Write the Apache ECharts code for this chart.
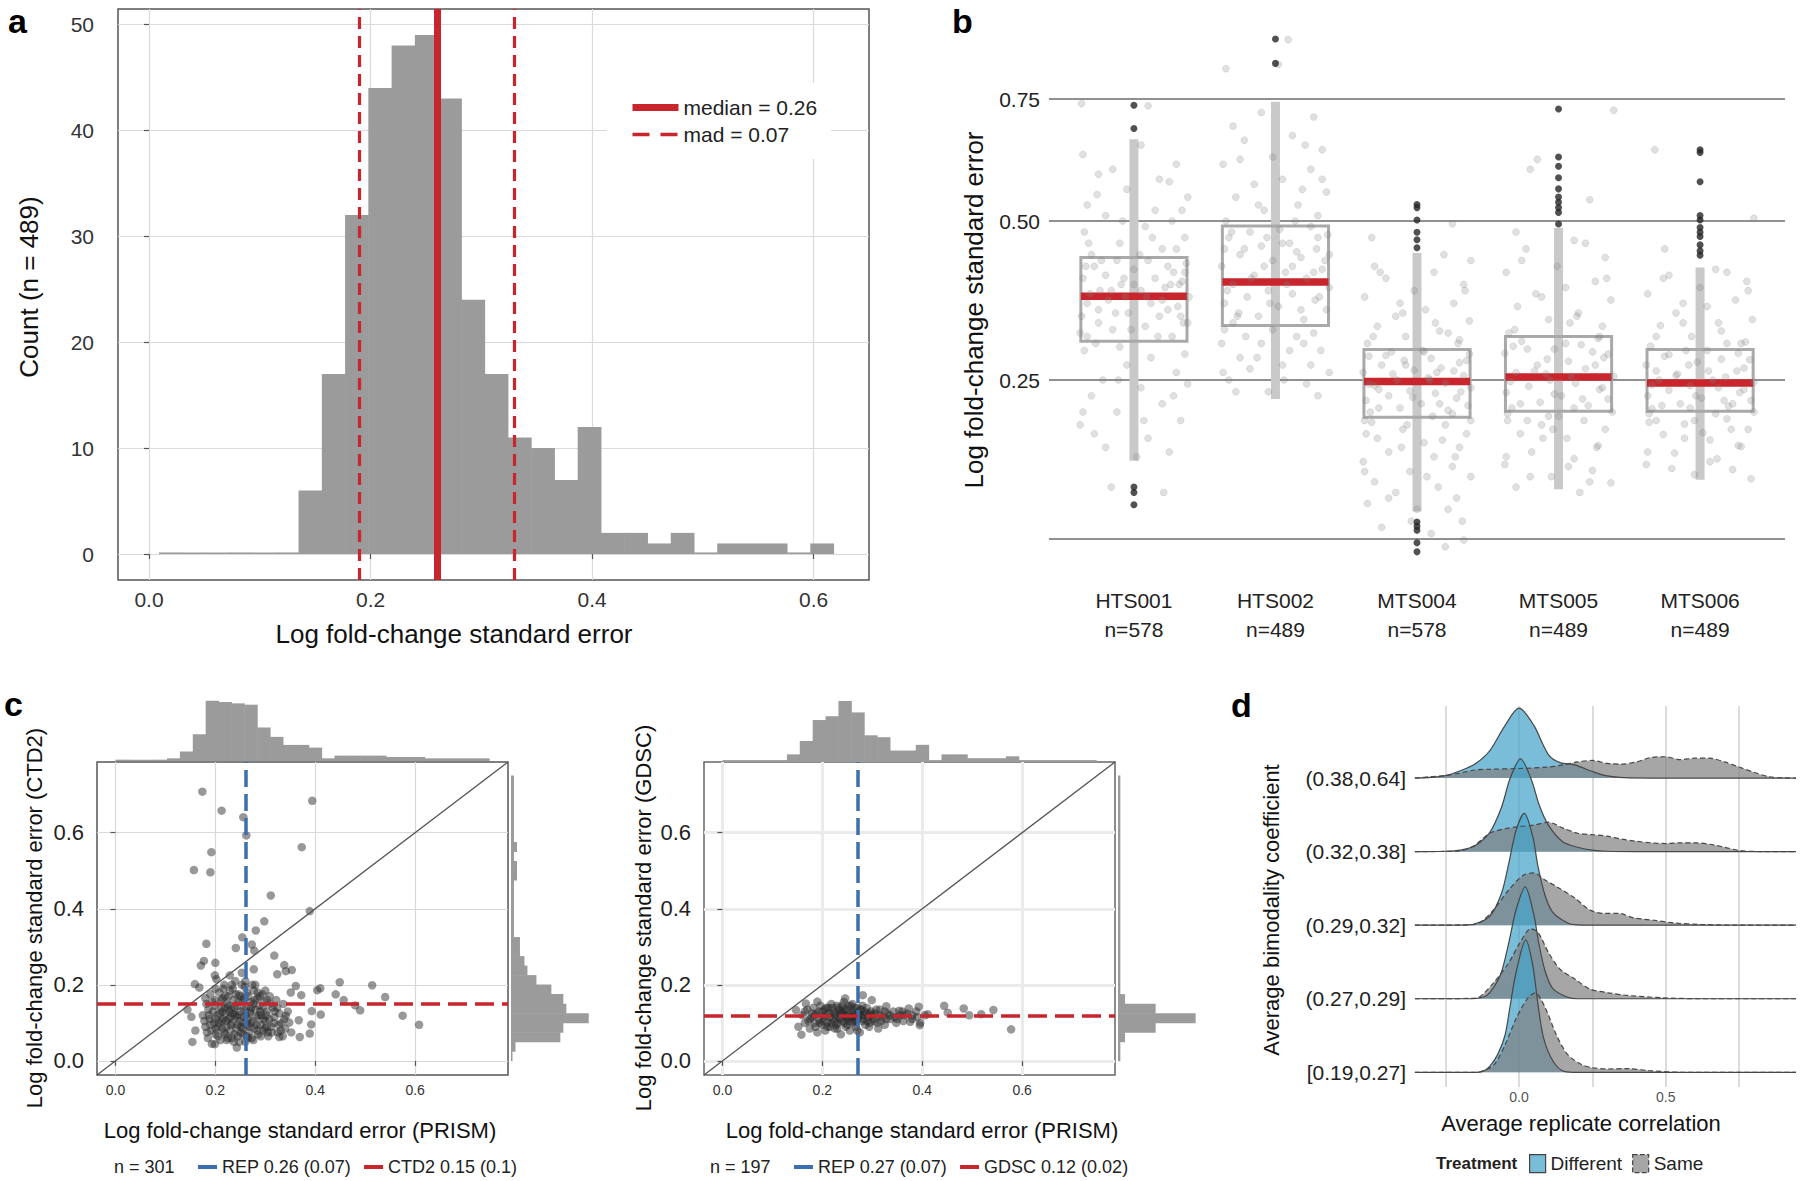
<!DOCTYPE html>
<html>
<head>
<meta charset="utf-8">
<title>Log fold-change standard error</title>
<script src="https://cdn.jsdelivr.net/npm/echarts@6/dist/echarts.min.js"></script>
<style>
  html, body { margin: 0; padding: 0; background: #fff; }
  #chart { width: 1800px; height: 1181px; }
</style>
</head>
<body>
<div id="chart"></div>
<script>
const FONT = 'Liberation Sans, Arial, Helvetica, sans-serif';
const RED = '#c8252c';
const BLUE = '#3b6fb0';
const GREY = '#9b9b9b';

// a : histogram of standard errors
const aBinStart = 0.009;
const aBinWidth = 0.021;
const aCounts = [0, 0, 0, 0, 0, 0, 6, 17, 32, 44, 48, 49, 43, 24, 17, 11, 10, 7, 12, 2, 2, 1, 2, 0, 1, 1, 1, 0, 1];
const aMedian = 0.262;
const aMadLines = [0.19, 0.333];
const aLegend = ['median = 0.26', 'mad = 0.07'];
const aXTicks = [0, 0.2, 0.4, 0.6];
const aYTicks = [0, 10, 20, 30, 40, 50];

// b : boxplots per screen
const bCats = ['HTS001', 'HTS002', 'MTS004', 'MTS005', 'MTS006'];
const bN = ['n=578', 'n=489', 'n=578', 'n=489', 'n=489'];
const bLow = [0.156, 0.226, 0.108, 0.128, 0.137];
const bQ1 = [0.303, 0.326, 0.204, 0.211, 0.211];
const bMed = [0.371, 0.394, 0.248, 0.254, 0.246];
const bQ3 = [0.435, 0.491, 0.2915, 0.31, 0.2915];
const bHigh = [0.662, 0.744, 0.443, 0.487, 0.418];
const bOutliers = [
  [0.736, 0.685, 0.130, 0.125, 0.114],
  [0.8915, 0.8325],
  [0.531, 0.525, 0.502, 0.4795, 0.466, 0.452, 0.0993, 0.0959, 0.0926, 0.083, 0.0763],
  [0.7278, 0.625, 0.606, 0.583, 0.561, 0.545, 0.535, 0.525, 0.516, 0.4945],
  [0.640, 0.634, 0.575, 0.510, 0.502, 0.488, 0.4795, 0.472, 0.457, 0.4465, 0.439]
];
// jittered points: [offset from group centre, value]
const bJitter = [
  [[-0.35,0.29],[0.12,0.28],[-0.05,0.27],[0.3,0.26],[-0.22,0.25],[0.38,0.245],[0.05,0.24],[-0.3,0.23],[0.2,0.22],[-0.12,0.21],[0.33,0.2],[-0.38,0.195],[0.1,0.18],[-0.2,0.17],[0.25,0.165],[-0.28,0.185],[0.02,0.16],[0.36,0.285],[-0.1,0.295],
   [-0.33,0.31],[0.27,0.31],[-0.15,0.32],[0.08,0.325],[0.35,0.33],[-0.37,0.34],[0.18,0.34],[-0.04,0.345],[-0.25,0.35],[0.31,0.355],[0.12,0.36],[-0.18,0.365],[0.39,0.37],[-0.31,0.375],[0.05,0.38],[0.22,0.385],[-0.09,0.39],[0.34,0.395],[-0.36,0.4],[0.15,0.4],[-0.2,0.405],[0.28,0.41],[0.0,0.415],[-0.28,0.42],[0.37,0.425],[-0.12,0.43],[0.1,0.43],[-0.38,0.315],[0.24,0.35],[-0.06,0.37],[0.32,0.39],[-0.24,0.38],
   [-0.3,0.44],[0.2,0.45],[-0.1,0.46],[0.36,0.47],[-0.35,0.48],[0.08,0.49],[0.27,0.5],[-0.2,0.51],[0.15,0.52],[-0.33,0.53],[0.38,0.545],[-0.05,0.56],[0.25,0.575],[-0.25,0.59],[0.3,0.61],[-0.36,0.63],[0.05,0.65],[-0.37,0.74],[0.1,0.735],[-0.15,0.6],[0.21,0.125],[-0.16,0.13],
   [-0.27,0.3],[0.17,0.31],[-0.02,0.32],[0.33,0.34],[-0.33,0.36],[0.09,0.37],[-0.16,0.38],[0.26,0.39],[-0.07,0.4],[0.36,0.41],[-0.23,0.43],[0.04,0.44],[0.3,0.45],[-0.32,0.46],[0.13,0.47],[-0.08,0.5],[0.34,0.52],[-0.26,0.55],[0.18,0.58],[-0.11,0.25],[0.28,0.23],[-0.36,0.21],[0.07,0.2],[-0.25,0.33],[0.2,0.365],[-0.13,0.345],[0.38,0.33],[0.0,0.39],[-0.34,0.42],[0.24,0.42]],
  [[-0.36,0.32],[0.15,0.31],[-0.1,0.3],[0.32,0.29],[-0.25,0.28],[0.05,0.27],[0.38,0.26],[-0.33,0.25],[0.22,0.245],[-0.05,0.235],[0.3,0.23],[-0.18,0.265],[0.1,0.29],[-0.38,0.3],[0.27,0.315],[-0.28,0.235],
   [-0.3,0.33],[0.2,0.335],[-0.12,0.34],[0.36,0.35],[0.02,0.355],[-0.36,0.36],[0.28,0.365],[-0.2,0.37],[0.12,0.375],[-0.05,0.38],[0.38,0.385],[-0.3,0.39],[0.22,0.4],[-0.15,0.405],[0.07,0.41],[0.33,0.415],[-0.38,0.42],[-0.02,0.43],[0.18,0.435],[-0.25,0.44],[0.29,0.45],[-0.1,0.455],[0.1,0.46],[-0.33,0.47],[0.37,0.475],[-0.18,0.48],[0.03,0.485],[0.25,0.49],[-0.26,0.345],[0.15,0.445],
   [-0.35,0.5],[0.3,0.51],[-0.08,0.52],[0.16,0.53],[-0.28,0.545],[0.36,0.555],[-0.15,0.57],[0.05,0.58],[0.25,0.6],[-0.37,0.61],[-0.02,0.625],[0.33,0.64],[-0.22,0.66],[0.12,0.67],[-0.3,0.69],[0.27,0.71],[-0.1,0.72],[0.19,0.56],[0.09,0.89],[-0.35,0.82],[0.02,0.83],
   [-0.27,0.34],[0.18,0.35],[-0.04,0.36],[0.31,0.37],[-0.34,0.38],[0.08,0.39],[-0.17,0.4],[0.27,0.41],[-0.08,0.42],[0.35,0.43],[-0.22,0.45],[0.05,0.46],[0.3,0.47],[-0.31,0.48],[0.14,0.5],[-0.12,0.53],[0.33,0.58],[-0.25,0.62],[0.21,0.65],[-0.13,0.28],[0.25,0.27],[-0.37,0.26],[0.06,0.25],[-0.21,0.31],[0.2,0.3],[-0.02,0.32],[0.38,0.44],[-0.36,0.45],[0.12,0.42],[-0.06,0.47]],
  [[-0.37,0.2],[0.2,0.195],[-0.1,0.19],[0.35,0.185],[-0.28,0.18],[0.05,0.175],[0.3,0.17],[-0.2,0.165],[0.12,0.16],[-0.38,0.155],[0.25,0.15],[-0.05,0.145],[0.38,0.14],[-0.3,0.135],[0.15,0.13],[-0.15,0.125],[0.28,0.12],[-0.35,0.115],[0.0,0.11],[0.32,0.1],[-0.25,0.095],[0.1,0.09],[0.33,0.085],[-0.32,0.198],[0.18,0.178],
   [-0.33,0.21],[0.22,0.212],[-0.12,0.215],[0.36,0.218],[0.03,0.22],[-0.36,0.224],[0.28,0.227],[-0.2,0.23],[0.13,0.233],[-0.05,0.236],[0.38,0.24],[-0.3,0.243],[0.2,0.246],[-0.14,0.25],[0.08,0.253],[0.33,0.256],[-0.38,0.26],[-0.02,0.263],[0.17,0.266],[-0.25,0.27],[0.3,0.273],[-0.09,0.276],[0.1,0.279],[-0.34,0.282],[0.37,0.285],[-0.18,0.288],[0.04,0.29],[0.25,0.208],[-0.27,0.238],[0.14,0.26],
   [-0.35,0.3],[0.3,0.305],[-0.08,0.31],[0.16,0.318],[-0.28,0.325],[0.37,0.333],[-0.15,0.34],[0.06,0.35],[0.26,0.36],[-0.37,0.37],[-0.02,0.38],[0.33,0.39],[-0.22,0.4],[0.12,0.41],[-0.3,0.42],[0.22,0.315],[-0.1,0.345],[0.38,0.43],[-0.32,0.47],[0.25,0.495],[0.2,0.08],
   [-0.27,0.215],[0.16,0.22],[-0.03,0.228],[0.31,0.235],[-0.34,0.245],[0.09,0.25],[-0.17,0.258],[0.26,0.262],[-0.08,0.27],[0.35,0.276],[-0.22,0.283],[0.05,0.288],[0.29,0.3],[-0.31,0.31],[0.13,0.33],[-0.12,0.36],[0.34,0.38],[-0.26,0.41],[0.19,0.44],[-0.11,0.17],[0.27,0.16],[-0.37,0.145],[0.07,0.14],[-0.2,0.12],[0.22,0.11],[-0.04,0.1],[0.38,0.2],[-0.36,0.185],[0.11,0.205],[-0.07,0.195]],
  [[-0.36,0.208],[0.18,0.2],[-0.12,0.195],[0.33,0.19],[-0.27,0.185],[0.06,0.18],[0.28,0.172],[-0.19,0.165],[0.11,0.158],[-0.38,0.152],[0.24,0.146],[-0.05,0.14],[0.37,0.134],[-0.3,0.13],[0.15,0.125],[0.0,0.205],[-0.22,0.2],
   [-0.33,0.215],[0.21,0.218],[-0.13,0.222],[0.35,0.226],[0.02,0.23],[-0.37,0.234],[0.29,0.238],[-0.21,0.242],[0.12,0.246],[-0.06,0.25],[0.39,0.255],[-0.3,0.26],[0.19,0.265],[-0.15,0.27],[0.07,0.275],[0.32,0.28],[-0.38,0.286],[-0.03,0.292],[0.16,0.298],[-0.26,0.303],[0.28,0.307],[-0.09,0.258],[0.24,0.288],[-0.32,0.296],
   [-0.35,0.315],[0.31,0.325],[-0.07,0.335],[0.14,0.345],[-0.29,0.355],[0.37,0.365],[-0.16,0.375],[0.05,0.385],[0.26,0.395],[-0.37,0.41],[-0.01,0.42],[0.33,0.435],[-0.23,0.45],[0.11,0.465],[-0.3,0.48],[0.22,0.54],[-0.2,0.6],[0.39,0.725],[-0.15,0.62],[0.08,0.33],
   [-0.27,0.22],[0.17,0.226],[-0.03,0.232],[0.31,0.24],[-0.34,0.248],[0.09,0.255],[-0.17,0.262],[0.26,0.27],[-0.08,0.278],[0.35,0.285],[-0.22,0.292],[0.05,0.3],[0.29,0.31],[-0.31,0.32],[0.13,0.34],[-0.12,0.37],[0.34,0.4],[-0.26,0.43],[0.19,0.46],[-0.11,0.18],[0.27,0.17],[-0.37,0.16],[0.07,0.15],[-0.2,0.14],[0.22,0.135],[-0.04,0.19],[0.38,0.21],[-0.36,0.2],[0.11,0.215],[-0.07,0.205]],
  [[-0.36,0.208],[0.19,0.202],[-0.11,0.196],[0.34,0.19],[-0.26,0.184],[0.07,0.178],[0.29,0.171],[-0.18,0.164],[0.12,0.158],[-0.38,0.152],[0.23,0.147],[-0.04,0.142],[0.36,0.138],[-0.31,0.2],[0.02,0.186],
   [-0.34,0.214],[0.2,0.217],[-0.14,0.22],[0.36,0.224],[0.01,0.227],[-0.37,0.23],[0.28,0.234],[-0.22,0.237],[0.13,0.24],[-0.07,0.243],[0.38,0.247],[-0.29,0.25],[0.18,0.254],[-0.16,0.258],[0.06,0.262],[0.31,0.266],[-0.38,0.27],[-0.02,0.274],[0.15,0.278],[-0.25,0.282],[0.27,0.286],[-0.1,0.29],[0.23,0.22],[-0.31,0.262],
   [-0.35,0.296],[0.32,0.302],[-0.06,0.31],[0.15,0.318],[-0.28,0.326],[0.37,0.335],[-0.17,0.345],[0.05,0.355],[0.25,0.365],[-0.37,0.375],[0.0,0.385],[0.33,0.395],[-0.22,0.405],[0.11,0.415],[-0.32,0.64],[0.19,0.3],[-0.12,0.33],[0.38,0.505],[-0.25,0.45],
   [-0.27,0.218],[0.17,0.224],[-0.03,0.23],[0.31,0.238],[-0.34,0.244],[0.09,0.25],[-0.17,0.256],[0.26,0.262],[-0.08,0.27],[0.35,0.277],[-0.22,0.284],[0.05,0.29],[0.29,0.3],[-0.31,0.31],[0.13,0.33],[-0.12,0.36],[0.34,0.38],[-0.26,0.4],[0.19,0.41],[-0.11,0.18],[0.27,0.172],[-0.37,0.165],[0.07,0.155],[-0.2,0.148],[0.22,0.19],[-0.04,0.2],[0.38,0.21],[-0.36,0.198],[0.11,0.208],[-0.07,0.215]]
];
const bYTicks = [0.25, 0.5, 0.75];
const bFloorLine = 0.086;

// c : PRISM vs CTD2 / GDSC
const cTicks = [0, 0.2, 0.4, 0.6];
const cLeftPoints = [
  [0.174,0.708],[0.2125,0.658],[0.256,0.641],[0.262,0.593],[0.394,0.684],[0.373,0.562],[0.192,0.549],[0.157,0.502],[0.19,0.496],[0.311,0.435],[0.389,0.394],[0.298,0.367],[0.281,0.343],[0.254,0.325],[0.273,0.306],[0.241,0.297],[0.182,0.308],[0.278,0.29],[0.318,0.277],[0.177,0.263],[0.2,0.258],[0.171,0.251],[0.338,0.252],[0.353,0.239],[0.341,0.236],[0.277,0.241],[0.324,0.228],[0.199,0.225],[0.229,0.225],[0.253,0.232],[0.159,0.202],[0.168,0.193],[0.361,0.197],[0.449,0.207],[0.514,0.199],[0.41,0.191],[0.404,0.186],[0.441,0.175],[0.54,0.168],[0.457,0.16],[0.48,0.146],[0.49,0.133],[0.575,0.119],[0.608,0.095],[0.411,0.122],[0.393,0.131],[0.372,0.173],[0.351,0.18],[0.392,0.096],[0.389,0.072],[0.369,0.063],[0.352,0.075],[0.348,0.101],[0.341,0.119],[0.367,0.107],[0.328,0.063],[0.154,0.05],[0.16,0.08],[0.199,0.044],[0.144,0.135],[0.152,0.116],
  [0.175,0.12],[0.18,0.09],[0.182,0.15],[0.185,0.06],[0.188,0.11],[0.19,0.175],[0.192,0.08],[0.195,0.13],[0.197,0.1],[0.2,0.16],[0.2,0.07],[0.202,0.215],[0.204,0.12],[0.206,0.09],[0.208,0.18],[0.21,0.055],[0.211,0.14],[0.213,0.105],[0.215,0.165],[0.217,0.075],[0.218,0.2],[0.22,0.125],[0.222,0.09],[0.224,0.15],[0.225,0.06],[0.227,0.11],[0.229,0.185],[0.23,0.08],[0.232,0.135],[0.234,0.1],[0.236,0.16],[0.237,0.05],[0.239,0.12],[0.24,0.21],[0.242,0.085],[0.244,0.145],[0.245,0.065],[0.247,0.175],[0.249,0.105],[0.25,0.13],[0.252,0.09],[0.254,0.16],[0.255,0.07],[0.257,0.115],[0.259,0.195],[0.26,0.05],[0.262,0.14],[0.264,0.095],[0.266,0.17],[0.267,0.075],[0.269,0.125],[0.271,0.155],[0.273,0.06],[0.275,0.105],[0.277,0.185],[0.278,0.085],[0.28,0.135],[0.282,0.115],[0.284,0.165],[0.286,0.07],[0.288,0.145],[0.29,0.095],[0.292,0.12],[0.294,0.175],[0.296,0.08],[0.298,0.155],[0.3,0.105],[0.303,0.13],[0.306,0.065],[0.309,0.17],[0.312,0.09],[0.315,0.14],[0.318,0.115],[0.322,0.16],[0.325,0.075],[0.328,0.125],[0.332,0.1],[0.336,0.15],[0.34,0.085],[0.345,0.13],
  [0.178,0.105],[0.186,0.135],[0.193,0.045],[0.199,0.145],[0.205,0.065],[0.209,0.125],[0.214,0.085],[0.219,0.14],[0.223,0.055],[0.226,0.17],[0.231,0.095],[0.235,0.125],[0.238,0.07],[0.243,0.115],[0.246,0.155],[0.251,0.075],[0.253,0.2],[0.256,0.1],[0.261,0.12],[0.263,0.18],[0.268,0.09],[0.272,0.14],[0.276,0.055],[0.279,0.16],[0.283,0.095],[0.287,0.12],[0.291,0.065],[0.295,0.14],[0.299,0.085],[0.304,0.16],[0.308,0.11],[0.313,0.075],[0.319,0.13],[0.327,0.095],[0.335,0.065],[0.216,0.19],[0.233,0.2],[0.258,0.165],[0.274,0.2],[0.2,0.11],[0.212,0.16],[0.228,0.13],[0.248,0.05],[0.265,0.11],[0.285,0.18],[0.302,0.12],[0.19,0.095],[0.183,0.075],[0.221,0.105],[0.241,0.175],
  [0.18,0.165],[0.187,0.12],[0.194,0.155],[0.201,0.085],[0.207,0.1],[0.214,0.13],[0.22,0.07],[0.226,0.145],[0.233,0.06],[0.238,0.14],[0.244,0.095],[0.25,0.17],[0.257,0.135],[0.263,0.065],[0.27,0.1],[0.276,0.15],[0.283,0.08],[0.289,0.17],[0.296,0.11],[0.303,0.09],[0.31,0.15],[0.317,0.1],[0.324,0.14],[0.331,0.08],[0.338,0.11],[0.23,0.115],[0.255,0.085],[0.27,0.13],[0.245,0.12],[0.215,0.11],[0.29,0.13],[0.305,0.075],[0.2,0.19],[0.22,0.17],[0.26,0.21],[0.28,0.2],[0.235,0.19],[0.3,0.185],[0.265,0.06],[0.243,0.035]
];
const cRightPoints = [
  [0.281,0.173],[0.444,0.145],[0.451,0.127],[0.483,0.138],[0.494,0.12],[0.518,0.123],[0.5425,0.134],[0.578,0.083],[0.411,0.123],[0.393,0.1425],[0.373,0.138],[0.354,0.132],[0.328,0.144],[0.312,0.085],[0.395,0.094],[0.376,0.103],[0.299,0.16],[0.158,0.069],[0.152,0.09],[0.147,0.134],[0.167,0.151],[0.19,0.156],[0.2457,0.1645],
  [0.16,0.12],[0.165,0.1],[0.17,0.135],[0.175,0.085],[0.178,0.115],[0.182,0.14],[0.185,0.1],[0.188,0.125],[0.19,0.075],[0.193,0.11],[0.196,0.145],[0.199,0.095],[0.2,0.13],[0.203,0.115],[0.206,0.08],[0.208,0.14],[0.21,0.1],[0.213,0.125],[0.215,0.09],[0.218,0.15],[0.22,0.11],[0.222,0.13],[0.225,0.085],[0.227,0.12],[0.229,0.145],[0.231,0.1],[0.233,0.115],[0.235,0.135],[0.237,0.07],[0.239,0.125],[0.241,0.105],[0.243,0.155],[0.245,0.12],[0.247,0.09],[0.249,0.135],[0.251,0.11],[0.253,0.125],[0.255,0.08],[0.257,0.145],[0.259,0.115],[0.261,0.1],[0.263,0.13],[0.265,0.12],[0.267,0.09],[0.269,0.14],[0.271,0.11],[0.273,0.125],[0.275,0.075],[0.278,0.135],[0.28,0.105],[0.283,0.12],[0.286,0.095],[0.289,0.14],[0.292,0.115],[0.295,0.1],[0.298,0.13],[0.301,0.11],[0.305,0.125],[0.31,0.1],[0.315,0.135],[0.32,0.115],[0.325,0.095],[0.33,0.125],[0.336,0.11],[0.342,0.13],[0.348,0.1],[0.355,0.12],[0.362,0.105],[0.37,0.125],[0.38,0.11],[0.388,0.13],[0.396,0.1],[0.405,0.12],
  [0.172,0.105],[0.18,0.125],[0.186,0.09],[0.194,0.13],[0.201,0.105],[0.207,0.12],[0.212,0.14],[0.217,0.1],[0.223,0.125],[0.228,0.095],[0.232,0.14],[0.236,0.11],[0.24,0.13],[0.244,0.1],[0.248,0.115],[0.252,0.145],[0.256,0.105],[0.26,0.125],[0.264,0.14],[0.268,0.105],[0.272,0.12],[0.276,0.135],[0.282,0.11],[0.288,0.125],[0.294,0.09],[0.3,0.12],[0.308,0.135],[0.318,0.105],[0.328,0.11],[0.345,0.115],[0.365,0.12],[0.39,0.115],
  [0.165,0.13],[0.175,0.11],[0.185,0.12],[0.195,0.1],[0.205,0.135],[0.215,0.115],[0.225,0.105],[0.235,0.125],[0.245,0.135],[0.255,0.115],[0.265,0.105],[0.275,0.12],[0.285,0.13],[0.295,0.125],[0.305,0.105],[0.315,0.12],[0.325,0.13],[0.335,0.12],[0.35,0.11],[0.23,0.085],[0.25,0.095],[0.27,0.08],[0.21,0.09],[0.29,0.105],[0.24,0.145],[0.26,0.15],[0.22,0.14],[0.28,0.145],[0.36,0.13],[0.38,0.12]
];
const cLeftRep = 0.261;
const cLeftCtd2 = 0.152;
const cRightRep = 0.267;
const cRightGdsc = 0.117;
const cLeftLegend = ['REP 0.26 (0.07)', 'CTD2 0.15 (0.1)'];
const cRightLegend = ['REP 0.27 (0.07)', 'GDSC 0.12 (0.02)'];
const cTopBinWidth = 0.0258;
const cLeftTopCounts = [1, 1, 1, 1, 2, 7, 20, 45, 44, 43, 42, 25, 18, 12, 12, 10, 2, 4, 4, 4, 4, 3, 3, 3, 2, 2, 2, 2, 2];
const cRightTopCounts = [1, 1, 1, 1, 1, 4, 11, 22, 24, 32, 26, 14, 13, 6, 6, 9, 1, 4, 4, 2, 2, 2, 3, 1, 1, 1, 1, 1, 1];
const cSideBinWidth = 0.025;
const cLeftSideCounts = [1, 3, 33, 35, 52, 37, 35, 27, 17, 11, 9, 6, 6, 2, 2, 2, 2, 2, 2, 4, 4, 2, 4, 2, 2, 2, 2, 2, 2, 2];
const cRightSideCounts = [1, 1, 3, 16, 33, 16, 3, 1, 1, 1, 1, 1, 1, 1, 1, 1, 1, 1, 1, 1, 1, 1, 1, 1, 1, 1, 1, 1, 1, 1];

// d : ridgelines, [correlation, scaled density] per bimodality bin (top to bottom)
const dRows = ['(0.38,0.64]', '(0.32,0.38]', '(0.29,0.32]', '(0.27,0.29]', '[0.19,0.27]'];
const dDifferent = [
  [[-0.355,0],[-0.3,0.01],[-0.25,0.035],[-0.2,0.1],[-0.15,0.19],[-0.1,0.37],[-0.05,0.7],[0,0.95],[0.05,0.72],[0.1,0.32],[0.14,0.21],[0.19,0.18],[0.25,0.09],[0.3,0.03],[0.36,0.005],[0.45,0],[0.944,0]],
  [[-0.355,0],[-0.25,0.005],[-0.2,0.02],[-0.15,0.08],[-0.1,0.26],[-0.06,0.6],[-0.03,1.0],[0.005,1.26],[0.04,1.0],[0.07,0.62],[0.1,0.36],[0.15,0.13],[0.2,0.06],[0.25,0.02],[0.3,0.005],[0.4,0],[0.944,0]],
  [[-0.355,0],[-0.2,0],[-0.15,0.02],[-0.1,0.12],[-0.06,0.43],[-0.035,0.84],[-0.01,1.29],[0.018,1.52],[0.047,1.2],[0.065,0.79],[0.09,0.39],[0.116,0.17],[0.166,0.03],[0.2,0.005],[0.3,0],[0.944,0]],
  [[-0.355,0],[-0.16,0],[-0.136,0.01],[-0.11,0.045],[-0.086,0.157],[-0.06,0.36],[-0.035,0.76],[-0.01,1.21],[0.021,1.52],[0.05,1.15],[0.068,0.74],[0.09,0.36],[0.116,0.135],[0.166,0.02],[0.2,0],[0.944,0]],
  [[-0.355,0],[-0.15,0],[-0.123,0.013],[-0.1,0.08],[-0.073,0.24],[-0.048,0.5],[-0.03,0.91],[-0.01,1.36],[0.023,1.8],[0.047,1.45],[0.065,0.91],[0.084,0.46],[0.116,0.15],[0.154,0.013],[0.2,0],[0.944,0]]
];
const dSame = [
  [[-0.355,0],[-0.3,0.02],[-0.25,0.035],[-0.2,0.07],[-0.15,0.11],[-0.1,0.12],[0,0.13],[0.1,0.15],[0.15,0.18],[0.2,0.22],[0.25,0.24],[0.3,0.2],[0.35,0.19],[0.4,0.22],[0.45,0.28],[0.5,0.29],[0.55,0.25],[0.6,0.27],[0.65,0.27],[0.7,0.22],[0.75,0.15],[0.8,0.08],[0.85,0.02],[0.9,0.004],[0.944,0]],
  [[-0.355,0],[-0.25,0.003],[-0.2,0.01],[-0.15,0.09],[-0.1,0.25],[-0.05,0.31],[0,0.34],[0.05,0.36],[0.1,0.4],[0.15,0.32],[0.2,0.25],[0.25,0.23],[0.3,0.21],[0.35,0.17],[0.4,0.14],[0.45,0.12],[0.5,0.11],[0.55,0.12],[0.6,0.12],[0.65,0.1],[0.7,0.06],[0.75,0.015],[0.8,0.003],[0.85,0],[0.944,0]],
  [[-0.355,0],[-0.18,0.005],[-0.136,0.03],[-0.086,0.21],[-0.035,0.48],[0.015,0.68],[0.05,0.71],[0.09,0.61],[0.13,0.52],[0.19,0.37],[0.24,0.21],[0.29,0.16],[0.34,0.16],[0.39,0.1],[0.46,0.067],[0.53,0.03],[0.62,0.01],[0.75,0],[0.944,0]],
  [[-0.355,0],[-0.16,0.005],[-0.136,0.02],[-0.086,0.22],[-0.035,0.49],[0.003,0.76],[0.04,0.95],[0.065,0.9],[0.1,0.63],[0.14,0.4],[0.19,0.27],[0.24,0.135],[0.305,0.08],[0.37,0.045],[0.49,0.013],[0.62,0],[0.944,0]],
  [[-0.355,0],[-0.15,0],[-0.13,0.01],[-0.086,0.1],[-0.048,0.37],[-0.01,0.73],[0.028,1.0],[0.055,1.08],[0.09,0.87],[0.128,0.5],[0.166,0.24],[0.216,0.1],[0.254,0.06],[0.3,0.045],[0.37,0.05],[0.443,0.022],[0.557,0],[0.944,0]]
];
const dGridVals = [-0.25, 0, 0.25, 0.5, 0.75];
const dLabelVals = [0, 0.5];
const dFill = { Different: 'rgba(71,164,202,0.72)', Same: 'rgba(128,128,128,0.7)' };

// ---------- helpers
function bins(start, width, counts) {
  return counts.map((c, i) => [start + i * width, start + (i + 1) * width, c]);
}

function histItem(horizontal, color, minPx) {
  return function (params, api) {
    const lo = api.value(0), hi = api.value(1), n = api.value(2);
    if (!horizontal) {
      const p0 = api.coord([lo, 0]), p1 = api.coord([hi, n]);
      const h = Math.max(p0[1] - p1[1], minPx);
      return { type: 'rect', shape: { x: p0[0], y: p0[1] - h, width: p1[0] - p0[0] + 0.5, height: h }, style: { fill: color } };
    }
    const p0 = api.coord([0, lo]), p1 = api.coord([n, hi]);
    const w = Math.max(p1[0] - p0[0], minPx);
    return { type: 'rect', shape: { x: p0[0], y: p1[1] - 0.25, width: w, height: p0[1] - p1[1] + 0.5 }, style: { fill: color } };
  };
}

function hiddenAxis(grid, min, max) {
  return { type: 'value', gridIndex: grid, min: min, max: max, show: false };
}

function plotAxis(grid, min, max, ticks, label, split) {
  return {
    type: 'value', gridIndex: grid, min: min, max: max,
    axisLine: { show: false },
    axisTick: { show: true, length: 5, customValues: ticks, lineStyle: { color: '#555', width: 1.2 } },
    axisLabel: Object.assign({ customValues: ticks, fontFamily: FONT }, label),
    splitLine: { show: true, lineStyle: split }
  };
}

function refLine(name, xi, yi, color, width, dash, mark) {
  return {
    type: 'line', name: name, xAxisIndex: xi, yAxisIndex: yi, data: [], symbol: 'none',
    itemStyle: { color: color },
    lineStyle: { color: color, width: width, type: dash },
    markLine: { silent: true, symbol: ['none', 'none'], label: { show: false },
      lineStyle: { color: color, width: width, type: dash }, data: mark }
  };
}

// legend key drawn as a plain line, no symbol
function lineKey(name, color, width, dash) {
  return {
    name: name,
    lineStyle: { color: color, width: width, type: dash },
    itemStyle: { color: 'rgba(0,0,0,0)', borderColor: 'rgba(0,0,0,0)', borderWidth: 0, opacity: 0 }
  };
}

const sq = Math.sqrt;
const cMin = -0.037, cMax = 0.786;

// ---------- grids
const grids = [
  { left: 118, top: 9, width: 751, height: 571, show: true, borderColor: '#555', borderWidth: 1.5 },   // a
  { left: 1049, top: 30, width: 736, height: 530 },                                                    // b
  { left: 97, top: 762, width: 411, height: 313, show: true, borderColor: '#555', borderWidth: 1.5 },  // c left
  { left: 97, top: 700, width: 411, height: 61 },                                                      // c left top
  { left: 511, top: 762, width: 80, height: 313 },                                                     // c left side
  { left: 704, top: 762, width: 411, height: 313, show: true, borderColor: '#666', borderWidth: 1.5 }, // c right
  { left: 704, top: 700, width: 411, height: 62 },                                                     // c right top
  { left: 1118, top: 762, width: 80, height: 313 },                                                    // c right side
  { left: 1415, top: 706, width: 381, height: 381 }                                                    // d
].map(g => Object.assign({ containLabel: false, outerBoundsMode: 'none' }, g));

const tick2 = v => v.toFixed(1);

const xAxes = [
  plotAxis(0, -0.028, 0.65, aXTicks, { margin: 9, fontSize: 21, color: '#333', formatter: tick2 }, { color: '#dadada', width: 1.2 }),
  {
    type: 'value', gridIndex: 1, min: 0.4, max: 5.6,
    axisLine: { show: false }, axisTick: { show: false }, splitLine: { show: false },
    axisLabel: { customValues: [1, 2, 3, 4, 5], margin: 26, fontSize: 21, lineHeight: 29, color: '#222', fontFamily: FONT,
      formatter: v => bCats[Math.round(v) - 1] + '\n' + bN[Math.round(v) - 1] }
  },
  plotAxis(2, cMin, cMax, cTicks, { margin: 8, fontSize: 14, color: '#333', formatter: tick2 }, { color: '#d9d9d9', width: 1.2 }),
  hiddenAxis(3, cMin, cMax),
  hiddenAxis(4, 0, 53.5),
  plotAxis(5, cMin, cMax, cTicks, { margin: 8, fontSize: 14, color: '#333', formatter: tick2 }, { color: '#ebebeb', width: 3 }),
  hiddenAxis(6, cMin, cMax),
  hiddenAxis(7, 0, 34),
  {
    type: 'value', gridIndex: 8, min: -0.3546, max: 0.944,
    axisLine: { show: false },
    axisTick: { show: false, customValues: dGridVals },
    axisLabel: { customValues: dLabelVals, margin: 3, fontSize: 14, color: '#555', fontFamily: FONT, formatter: tick2 },
    splitLine: { show: true, lineStyle: { color: '#d3d3d3', width: 1.6 } }
  }
];

const yAxes = [
  plotAxis(0, -2.45, 51.45, aYTicks, { margin: 24, fontSize: 21, color: '#333', formatter: v => String(v) }, { color: '#dadada', width: 1.2 }),
  {
    type: 'value', gridIndex: 1, min: 0.2656, max: 0.9559,
    axisLine: { show: false },
    axisTick: { show: false, customValues: [sq(bFloorLine)].concat(bYTicks.map(sq)) },
    axisLabel: { customValues: bYTicks.map(sq), margin: 9, fontSize: 21, color: '#222', fontFamily: FONT,
      formatter: v => (v * v).toFixed(2) },
    splitLine: { show: true, lineStyle: { color: '#6b6b6b', width: 1.5 } }
  },
  plotAxis(2, cMin, cMax, cTicks, { margin: 13, fontSize: 22, color: '#222', formatter: tick2 }, { color: '#d9d9d9', width: 1.2 }),
  hiddenAxis(3, 0, 45.5),
  hiddenAxis(4, cMin, cMax),
  plotAxis(5, cMin, cMax, cTicks, { margin: 13, fontSize: 22, color: '#222', formatter: tick2 }, { color: '#ebebeb', width: 3 }),
  hiddenAxis(6, 0, 32.5),
  hiddenAxis(7, cMin, cMax),
  {
    type: 'value', gridIndex: 8, min: -0.2, max: 4.98,
    axisLine: { show: false }, axisTick: { show: false }, splitLine: { show: false },
    axisLabel: { customValues: [0, 1, 2, 3, 4], margin: 9, fontSize: 21, color: '#222', fontFamily: FONT,
      formatter: v => dRows[4 - Math.round(v)] }
  }
];

// ---------- series
const series = [];

// a
series.push({
  type: 'custom', xAxisIndex: 0, yAxisIndex: 0, silent: true,
  data: bins(aBinStart, aBinWidth, aCounts), encode: { x: [0, 1], y: 2 },
  renderItem: histItem(false, GREY, 1.6)
});
series.push(refLine(aLegend[0], 0, 0, RED, 7, 'solid', [{ xAxis: aMedian }]));
series.push(refLine(aLegend[1], 0, 0, RED, 3.2, [12, 7], aMadLines.map(v => ({ xAxis: v }))));

// b
const bBoxData = bCats.map((c, i) => [i + 1, sq(bLow[i]), sq(bQ1[i]), sq(bMed[i]), sq(bQ3[i]), sq(bHigh[i])]);
series.push({
  type: 'custom', xAxisIndex: 1, yAxisIndex: 1, silent: true,
  data: bBoxData, encode: { x: 0, y: [1, 5] },
  renderItem: (params, api) => {
    const x = api.value(0);
    const pLo = api.coord([x, api.value(1)]), pHi = api.coord([x, api.value(5)]);
    return { type: 'rect', shape: { x: pLo[0] - 4.5, y: pHi[1], width: 9, height: pLo[1] - pHi[1] }, style: { fill: '#c9c9c9' } };
  }
});
series.push({
  type: 'scatter', xAxisIndex: 1, yAxisIndex: 1, silent: true, symbolSize: 7,
  itemStyle: { color: 'rgba(135,135,135,0.32)', borderColor: 'rgba(110,110,110,0.3)', borderWidth: 0.6 },
  data: [].concat(...bJitter.map((pts, g) => pts.map(p => [g + 1 + p[0], sq(p[1])])))
});
series.push({
  type: 'custom', xAxisIndex: 1, yAxisIndex: 1, silent: true,
  data: bBoxData, encode: { x: 0, y: [1, 5] },
  renderItem: (params, api) => {
    const x = api.value(0), half = 0.375;
    const a = api.coord([x - half, api.value(4)]), b = api.coord([x + half, api.value(2)]);
    const m0 = api.coord([x - half, api.value(3)]), m1 = api.coord([x + half, api.value(3)]);
    return { type: 'group', children: [
      { type: 'rect', shape: { x: a[0], y: a[1], width: b[0] - a[0], height: b[1] - a[1] },
        style: { fill: 'none', stroke: '#a9a9a9', lineWidth: 3 } },
      { type: 'line', shape: { x1: m0[0], y1: m0[1], x2: m1[0], y2: m1[1] },
        style: { stroke: RED, lineWidth: 7.5 } }
    ] };
  }
});
series.push({
  type: 'scatter', xAxisIndex: 1, yAxisIndex: 1, silent: true, symbolSize: 7,
  itemStyle: { color: '#262626' },
  data: [].concat(...bOutliers.map((vals, g) => vals.map(v => [g + 1, sq(v)])))
});

// c left
series.push({ type: 'custom', xAxisIndex: 3, yAxisIndex: 3, silent: true, data: bins(0, cTopBinWidth, cLeftTopCounts),
  encode: { x: [0, 1], y: 2 }, renderItem: histItem(false, GREY, 0) });
series.push({ type: 'custom', xAxisIndex: 4, yAxisIndex: 4, silent: true, data: bins(0, cSideBinWidth, cLeftSideCounts),
  encode: { x: 2, y: [0, 1] }, renderItem: histItem(true, GREY, 0) });
series.push(refLine('diagL', 2, 2, '#555', 1.3, 'solid', [[{ coord: [cMin, cMin] }, { coord: [cMax, cMax] }]]));
series.push({ type: 'scatter', xAxisIndex: 2, yAxisIndex: 2, silent: true, symbolSize: 8.5,
  itemStyle: { color: 'rgba(40,40,40,0.6)' }, data: cLeftPoints });
series.push(refLine(cLeftLegend[0], 2, 2, BLUE, 3.5, [17, 7], [{ xAxis: cLeftRep }]));
series.push(refLine(cLeftLegend[1], 2, 2, RED, 3.5, [19, 8], [{ yAxis: cLeftCtd2 }]));

// c right
series.push({ type: 'custom', xAxisIndex: 6, yAxisIndex: 6, silent: true, data: bins(0, cTopBinWidth, cRightTopCounts),
  encode: { x: [0, 1], y: 2 }, renderItem: histItem(false, GREY, 0) });
series.push({ type: 'custom', xAxisIndex: 7, yAxisIndex: 7, silent: true, data: bins(0, cSideBinWidth, cRightSideCounts),
  encode: { x: 2, y: [0, 1] }, renderItem: histItem(true, GREY, 0) });
series.push(refLine('diagR', 5, 5, '#555', 1.3, 'solid', [[{ coord: [cMin, cMin] }, { coord: [cMax, cMax] }]]));
series.push({ type: 'scatter', xAxisIndex: 5, yAxisIndex: 5, silent: true, symbolSize: 8.5,
  itemStyle: { color: 'rgba(40,40,40,0.6)' }, data: cRightPoints });
series.push(refLine(cRightLegend[0], 5, 5, BLUE, 3.5, [17, 7], [{ xAxis: cRightRep }]));
series.push(refLine(cRightLegend[1], 5, 5, RED, 3.5, [19, 8], [{ yAxis: cRightGdsc }]));

// d : draw the top row first so lower rows overlap it
dRows.forEach((row, i) => {
  const base = 4 - i;
  [['Different', dDifferent[i], 'solid'], ['Same', dSame[i], [5, 3]]].forEach(([name, curve, dash]) => {
    series.push({
      type: 'line', name: name, xAxisIndex: 8, yAxisIndex: 8, silent: true,
      data: curve.map(p => [p[0], base + p[1]]),
      smooth: 0.3, symbol: 'none', showSymbol: false,
      itemStyle: { color: dFill[name] },
      lineStyle: { color: '#474747', width: 1.2, type: dash },
      areaStyle: { color: dFill[name], origin: base, opacity: 1 }
    });
  });
});

// ---------- legends
const legendText = { fontFamily: FONT, color: '#222' };
const legends = [
  {
    left: 607, top: 83, orient: 'vertical', padding: [14, 14, 14, 22], itemWidth: 46, itemHeight: 14, itemGap: 6,
    backgroundColor: '#fff', selectedMode: false, textStyle: Object.assign({ fontSize: 21 }, legendText),
    data: [lineKey(aLegend[0], RED, 7, 'solid'), lineKey(aLegend[1], RED, 3.5, [17, 11])]
  },
  {
    left: 196, top: 1158, orient: 'horizontal', padding: 0, itemWidth: 19, itemHeight: 18, itemGap: 11,
    selectedMode: false, textStyle: Object.assign({ fontSize: 18 }, legendText),
    data: [lineKey(cLeftLegend[0], BLUE, 4, 'solid'), lineKey(cLeftLegend[1], RED, 4, 'solid')]
  },
  {
    left: 792, top: 1158, orient: 'horizontal', padding: 0, itemWidth: 19, itemHeight: 18, itemGap: 11,
    selectedMode: false, textStyle: Object.assign({ fontSize: 18 }, legendText),
    data: [lineKey(cRightLegend[0], BLUE, 4, 'solid'), lineKey(cRightLegend[1], RED, 4, 'solid')]
  },
  {
    left: 1529, top: 1154, orient: 'horizontal', padding: 0, itemWidth: 16, itemHeight: 18, itemGap: 10,
    icon: 'rect', selectedMode: false, textStyle: Object.assign({ fontSize: 19 }, legendText),
    data: [
      { name: 'Different', itemStyle: { color: dFill.Different, borderColor: '#444', borderWidth: 1.2 } },
      { name: 'Same', itemStyle: { color: dFill.Same, borderColor: '#444', borderWidth: 1.2, borderType: 'dashed' } }
    ]
  }
];

// ---------- texts
function label(text, x, y, size, rotate, extra) {
  return {
    type: 'text', x: x, y: y, rotation: rotate ? Math.PI / 2 : 0, silent: true,
    style: Object.assign({ text: text, fontSize: size, fontFamily: FONT, fill: '#111', align: 'center', verticalAlign: 'middle' }, extra)
  };
}
const graphics = [
  label('Log fold-change standard error', 454, 634, 26, false),
  label('Count (n = 489)', 29, 287, 26, true),
  label('Log fold-change standard error', 974, 310, 26, true),
  label('Log fold-change standard error (PRISM)', 300, 1130, 22, false),
  label('Log fold-change standard error (CTD2)', 34, 918, 22, true),
  label('Log fold-change standard error (PRISM)', 922, 1130, 22, false),
  label('Log fold-change standard error (GDSC)', 643, 918, 22, true),
  label('Average replicate correlation', 1581, 1123, 22, false),
  label('Average bimodality coefficient', 1271, 910, 22, true),
  label('n = 301', 114, 1167, 18, false, { align: 'left', fill: '#222' }),
  label('n = 197', 710, 1167, 18, false, { align: 'left', fill: '#222' }),
  label('Treatment', 1436, 1163, 17, false, { align: 'left', fontWeight: 'bold', fill: '#222' })
];

const panelTitle = (t, left, top) => ({
  text: t, left: left, top: top, padding: 0,
  textStyle: { fontSize: 34, fontWeight: 'bold', color: '#000', fontFamily: FONT }
});

const chart = echarts.init(document.getElementById('chart'), null, { renderer: 'svg' });
chart.setOption({
  animation: false,
  backgroundColor: '#fff',
  title: [panelTitle('a', 8, 4), panelTitle('b', 952, 4), panelTitle('c', 4, 687), panelTitle('d', 1231, 688)],
  grid: grids,
  xAxis: xAxes,
  yAxis: yAxes,
  legend: legends,
  graphic: graphics,
  series: series
});
</script>
</body>
</html>
